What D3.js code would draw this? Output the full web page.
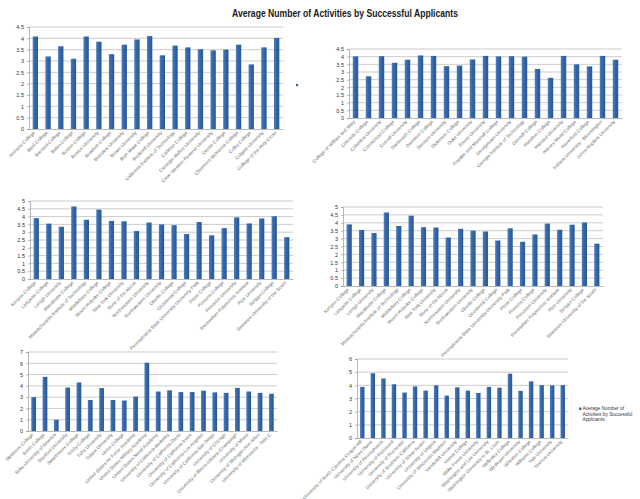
<!DOCTYPE html>
<html>
<head>
<meta charset="utf-8">
<script src="https://cdn.jsdelivr.net/npm/d3@7"></script>
<style>
  body { margin: 0; background: #fff; }
  svg { display: block; font-family: "Liberation Sans", Arial, sans-serif; }
</style>
</head>
<body>
<div class="sheet"></div>
<script>
// data
let schoolsA = ['Amherst College', 'Bard College', 'Barnard College', 'Bates College', 'Boston College',
  'Boston University', 'Bowdoin College', 'Brandeis University', 'Brown University', 'Bryn Mawr College',
  'Bucknell University', 'California Institute of Technology', 'Carleton College', 'Carnegie Mellon University',
  'Case Western Reserve University', 'Centre College', 'Claremont McKenna College', 'Colby College',
  'Colgate University', 'College of the Holy Cross'];
let valuesA = [4.08, 3.2, 3.65, 3.1, 4.08, 3.85, 3.3, 3.72, 3.95, 4.1, 3.25, 3.68, 3.6, 3.52, 3.47, 3.5, 3.72, 2.85, 3.6, 4.02];

let schoolsB = ['College of William and Mary', 'Colorado College', 'Columbia University', 'Connecticut College',
  'Cornell University', 'Dartmouth College', 'Davidson College', 'Denison University', 'Dickinson College',
  'Duke University', 'Emory University', 'Franklin and Marshall College', 'Georgetown University',
  'Georgia Institute of Technology', 'Grinnell College', 'Hamilton College', 'Harvard University',
  'Harvey Mudd College', 'Haverford College', 'Indiana University - Bloomington', 'Johns Hopkins University'];
let valuesB = [4.02, 2.72, 4.03, 3.6, 3.8, 4.08, 4.05, 3.38, 3.42, 3.82, 4.05, 4.02, 4.03, 4.0, 3.2, 2.62, 4.05, 3.5, 3.37, 4.05, 3.8];

let schoolsC = ['Kenyon College', 'Lafayette College', 'Lehigh University', 'Macalester College',
  'Massachusetts Institute of Technology', 'Middlebury College', 'Mount Holyoke College', 'New York University',
  'None of the Above', 'Northeastern University', 'Northwestern University', 'Oberlin College',
  'Occidental College', 'Pennsylvania State University-University Park', 'Pitzer College', 'Pomona College',
  'Princeton University', 'Rensselaer Polytechnic Institute', 'Rice University', 'Scripps College',
  'Sewanee-University of the South'];
let valuesC = [3.9, 3.55, 3.35, 4.65, 3.8, 4.45, 3.72, 3.7, 3.07, 3.62, 3.5, 3.45, 2.88, 3.65, 2.8, 3.26, 3.95, 3.56, 3.88, 4.02, 2.68];

let schoolsE = ['Skidmore College', 'Smith College', 'Soka University of America', 'Stanford University',
  'Swarthmore College', 'Trinity College', 'Tufts University', 'Tulane University', 'Union College',
  'United States Air Force Academy', 'United States Military Academy', 'United States Naval Academy',
  'University of California-Berkeley', 'University of California-Davis', 'University of California-Irvine',
  'University of California-Los Angeles', 'University of California-San Diego', 'University of Chicago',
  'University of Illinois-Urbana-Champaign', 'University of Miami', 'University of Michigan-Ann Arbor',
  'University of Minnesota - Twin C'];
let valuesE = [3.0, 4.8, 1.0, 3.85, 4.3, 2.75, 3.8, 2.75, 2.7, 3.05, 6.05, 3.5, 3.6, 3.45, 3.45, 3.57, 3.42, 3.38, 3.82, 3.5, 3.38, 3.3];

let schoolsF = ['University of North Carolina-Chapel Hill', 'University of Notre Dame', 'University of Pennsylvania',
  'University of Richmond', 'University of Rochester', 'University of Southern California',
  'University of Texas-Austin', 'University of Virginia', 'University of Wisconsin-Madison',
  'Vanderbilt University', 'Vassar College', 'Wake Forest University', 'Washington and Lee University',
  'Washington University in St. Louis', 'Wellesley College', 'Wesleyan University', 'Wheaton College',
  'Williams College', 'Yale University', 'Yeshiva University'];
let valuesF = [3.88, 4.92, 4.52, 4.08, 3.45, 3.92, 3.6, 4.0, 3.22, 3.85, 3.6, 3.42, 3.88, 3.82, 4.88, 3.58, 4.3, 4.02, 4.0, 4.02];

let ticksHalfTo45 = [0, 0.5, 1, 1.5, 2, 2.5, 3, 3.5, 4, 4.5];
let ticksHalfTo5 = [0, 0.5, 1, 1.5, 2, 2.5, 3, 3.5, 4, 4.5, 5];
let ticksOneTo7 = [0, 1, 2, 3, 4, 5, 6, 7];
let ticksOneTo6 = [0, 1, 2, 3, 4, 5, 6];

let seriesName = 'Average Number of Activities by Successful Applicants';

let width = 640;
let height = 499;

let svg = d3.select('.sheet')
  .append('svg')
  .attr('width', width)
  .attr('height', height)
  .attr('viewBox', '0 0 ' + width + ' ' + height);

// excel-ish bar fill
let grad = svg.append('defs').append('linearGradient')
  .attr('id', 'barFill')
  .attr('x1', 0).attr('x2', 1).attr('y1', 0).attr('y2', 0);
grad.append('stop').attr('offset', '0%').attr('stop-color', '#4b7fc0');
grad.append('stop').attr('offset', '45%').attr('stop-color', '#3466a8');
grad.append('stop').attr('offset', '100%').attr('stop-color', '#2a5794');

svg.append('text')
  .attr('x', 345)
  .attr('y', 17)
  .attr('text-anchor', 'middle')
  .attr('font-size', 10)
  .attr('font-weight', 'bold')
  .attr('fill', '#1a1a1a')
  .attr('textLength', 226)
  .attr('lengthAdjust', 'spacingAndGlyphs')
  .text(seriesName);

/**
 * One little column chart of the sheet.
 */
function drawPanel(names, values, ticks, box) {
  let xScale = d3.scaleBand()
    .domain(names)
    .range([box.left, box.right])
    .paddingInner(0.58)
    .paddingOuter(0.29);

  let yScale = d3.scaleLinear()
    .domain([0, ticks[ticks.length - 1]])
    .range([box.bottom, box.top]);

  let g = svg.append('g');

  // gridlines
  g.selectAll('.grid')
    .data(ticks.slice(1))
    .enter().append('line')
    .attr('class', 'grid')
    .attr('x1', box.left)
    .attr('x2', box.right)
    .attr('y1', function(d) { return yScale(d); })
    .attr('y2', function(d) { return yScale(d); })
    .attr('stroke', '#a9a9a9')
    .attr('stroke-width', 0.6);

  let yAxis = g.append('g')
    .attr('transform', 'translate(' + box.left + ', 0)')
    .call(d3.axisLeft(yScale).tickValues(ticks).tickSize(2).tickFormat(function(d) { return String(d); }));
  yAxis.select('.domain').attr('stroke', '#8c8c8c').attr('stroke-width', 0.6);
  yAxis.selectAll('.tick line').attr('stroke', '#8c8c8c').attr('stroke-width', 0.6);
  yAxis.selectAll('.tick text')
    .attr('font-size', 5.5)
    .attr('fill', '#333')
    .attr('font-family', '"Liberation Sans", Arial, sans-serif');

  g.selectAll('.bar')
    .data(values)
    .enter().append('rect')
    .attr('class', 'bar')
    .attr('x', function(d, i) { return xScale(names[i]); })
    .attr('y', function(d) { return yScale(d); })
    .attr('width', xScale.bandwidth())
    .attr('height', function(d) { return yScale(0) - yScale(d); })
    .attr('fill', 'url(#barFill)');

  let xAxis = g.append('g')
    .attr('transform', 'translate(0, ' + box.bottom + ')')
    .call(d3.axisBottom(xScale).tickSize(0).tickSizeOuter(0));
  xAxis.select('.domain').attr('stroke', '#8c8c8c').attr('stroke-width', 0.6);
  xAxis.selectAll('.tick text')
    .attr('font-size', 4.7)
    .attr('fill', '#6a6a6a')
    .attr('font-family', '"Liberation Sans", Arial, sans-serif')
    .attr('text-anchor', 'end')
    .attr('dy', 0)
    .attr('y', 0)
    .attr('transform', 'translate(0, 4) rotate(-45)');

  return g;
}

drawPanel(schoolsA, valuesA, ticksHalfTo45, { left: 29, right: 283, top: 27, bottom: 129 });
drawPanel(schoolsB, valuesB, ticksHalfTo45, { left: 349, right: 622, top: 49, bottom: 118 });
drawPanel(schoolsC, valuesC, ticksHalfTo5, { left: 30, right: 293, top: 201, bottom: 279 });
drawPanel(schoolsC, valuesC, ticksHalfTo5, { left: 343, right: 603, top: 207, bottom: 286 });
drawPanel(schoolsE, valuesE, ticksOneTo7, { left: 28, right: 277, top: 352, bottom: 431 });
drawPanel(schoolsF, valuesF, ticksOneTo6, { left: 357, right: 568, top: 359, bottom: 438 });

// legend of the first chart, left without a label
svg.append('rect')
  .attr('x', 296).attr('y', 84)
  .attr('width', 2.2).attr('height', 2.2)
  .attr('fill', '#3466a8');

// legend of the last chart
let legend = svg.append('g').attr('transform', 'translate(579, 410)');
legend.append('rect')
  .attr('x', 0).attr('y', -2.5)
  .attr('width', 2.4).attr('height', 2.4)
  .attr('fill', '#3466a8');
legend.selectAll('text')
  .data(['Average Number of', 'Activities by Successful', 'Applicants'])
  .enter().append('text')
  .attr('x', 3.5)
  .attr('y', function(d, i) { return i * 5.5; })
  .attr('font-size', 4.8)
  .attr('fill', '#333')
  .text(function(d) { return d; });
</script>
</body>
</html>
